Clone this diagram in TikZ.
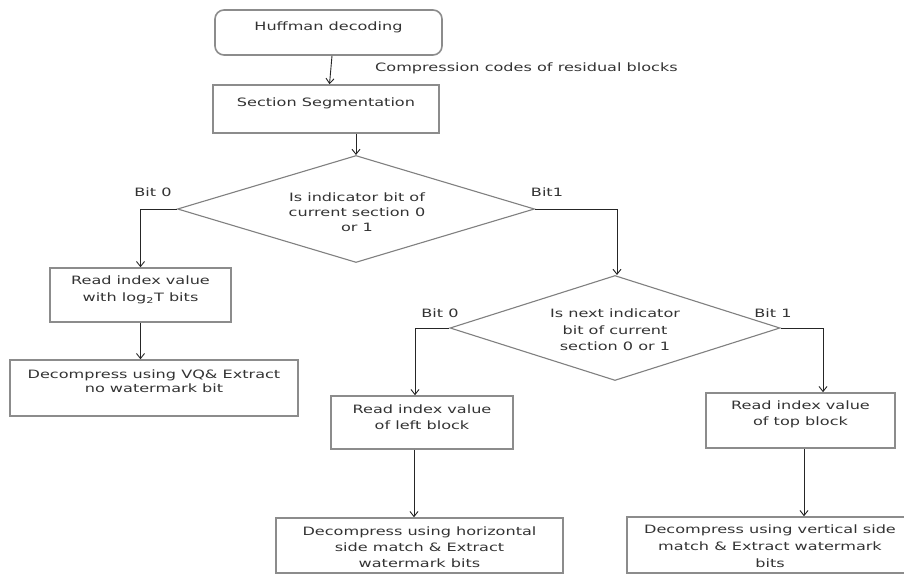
\documentclass[tikz,border=0pt]{standalone}
\usepackage{fontspec}
\setmainfont[FakeStretch=1.4]{DejaVu Sans}
\usetikzlibrary{shapes.geometric,arrows.meta,calc}
\begin{document}
\begin{tikzpicture}[x=1pt,y=-1pt,
  font=\fontsize{11.5}{15}\selectfont,
  box/.style={draw=black!45, line width=1.6pt, inner sep=0pt},
  txt/.style={text=black!80, align=center, inner sep=0pt},
  dia/.style={diamond, draw=black!50, line width=1.1pt, inner sep=0pt, aspect=3.3},
  arr/.style={draw=black!85, line width=0.9pt, -{Straight Barb[length=5pt,width=8pt]}},
  conn/.style={draw=black!85, line width=0.9pt}]
\useasboundingbox[fill=white] (0,0) rectangle (904,577);

% boxes
\node[box, rounded corners=9pt, minimum width=227pt, minimum height=45pt] (huff) at (328.5,32.5) {};
\node[txt] (huffT) at (328.5,27) {Huffman decoding};
\node[box, minimum width=226pt, minimum height=48pt] (seg) at (326,109) {};
\node[txt] (segT) at (326,103) {Section Segmentation};
\node[txt, anchor=west] (cc) at (375,68) {Compression codes of residual blocks};

\node[dia, minimum width=357pt, minimum height=107pt] (d1) at (356,209) {};
\node[txt] (d1T) at (357,212) {Is indicator bit of\\ current section 0\\ or 1};
\node[txt] (b0a) at (153,192) {Bit 0};
\node[txt] (b1a) at (547,192) {Bit1};

\node[box, minimum width=181pt, minimum height=54pt] (rlog) at (140.5,295) {};
\node[txt, font=\fontsize{11.5}{17}\selectfont] (rlogT) at (140.5,290) {Read index value\\ with log\textsubscript{2}T bits};
\node[box, minimum width=288pt, minimum height=56pt] (vq) at (154,388) {};
\node[txt, font=\fontsize{11.5}{14}\selectfont] (vqT) at (154,381) {Decompress using VQ\& Extract\\ no watermark bit};

\node[dia, minimum width=330pt, minimum height=105pt] (d2) at (615,328) {};
\node[txt, font=\fontsize{11.5}{16.5}\selectfont] (d2T) at (615,330) {Is next indicator\\ bit of current\\ section 0 or 1};
\node[txt] (b0b) at (440,313) {Bit 0};
\node[txt] (b1b) at (773,313) {Bit 1};

\node[box, minimum width=182pt, minimum height=53pt] (rleft) at (422,422.5) {};
\node[txt, font=\fontsize{11.5}{16}\selectfont] (rleftT) at (422,417) {Read index value\\ of left block};
\node[box, minimum width=189pt, minimum height=55pt] (rtop) at (800.5,420.5) {};
\node[txt, font=\fontsize{11.5}{16}\selectfont] (rtopT) at (800.5,414) {Read index value\\ of top block};

\node[box, minimum width=287pt, minimum height=55pt] (hor) at (419.5,545.5) {};
\node[txt, font=\fontsize{11.5}{16}\selectfont] (horT) at (419.5,547) {Decompress using horizontal\\ side match \& Extract\\ watermark bits};
\node[box, minimum width=279pt, minimum height=56pt] (ver) at (766.5,545) {};
\node[txt, font=\fontsize{11.5}{17}\selectfont] (verT) at (770,546) {Decompress using vertical side\\ match \& Extract watermark\\ bits};

% connectors
\draw[arr] ([xshift=3.5pt]huff.south) -- ([xshift=3.5pt]seg.north);
\draw[arr] (seg.south -| d1.north) -- (d1.north);
\draw[arr] (d1.west) -| (rlog.north);
\draw[arr] (d1.east) -| ([xshift=2pt]d2.north);
\draw[arr] (rlog.south) -- (rlog.south |- vq.north);
\draw[arr] (d2.west) -| ([xshift=-7pt]rleft.north);
\draw[arr] (d2.east) -| ([xshift=22.5pt]rtop.north);
\draw[arr] ([xshift=-8pt]rleft.south) -- ([xshift=-8pt]rleft.south |- hor.north);
\draw[arr] ([xshift=3.5pt]rtop.south) -- ([xshift=3.5pt]rtop.south |- ver.north);
\end{tikzpicture}
\end{document}
